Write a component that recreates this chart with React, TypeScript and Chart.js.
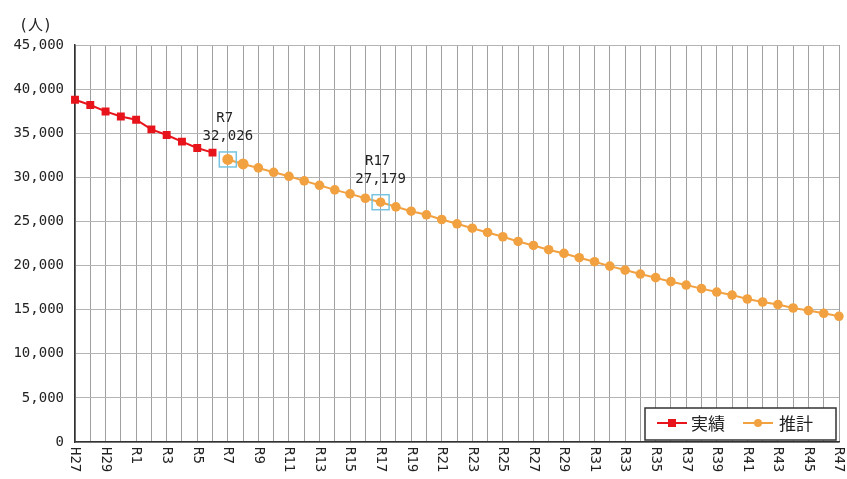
import { useEffect, useRef } from "react";
import { Chart, registerables } from "chart.js";

Chart.register(...registerables);

const categories = [
  "H27", "H28", "H29", "H30", "R1", "R2", "R3", "R4", "R5", "R6",
  "R7", "R8", "R9", "R10", "R11", "R12", "R13", "R14", "R15", "R16",
  "R17", "R18", "R19", "R20", "R21", "R22", "R23", "R24", "R25", "R26",
  "R27", "R28", "R29", "R30", "R31", "R32", "R33", "R34", "R35", "R36",
  "R37", "R38", "R39", "R40", "R41", "R42", "R43", "R44", "R45", "R46", "R47",
];

// 実績 (H27 - R6)
const actualValues = [38793, 38194, 37470, 36905, 36531, 35435, 34801, 34043, 33331, 32799];

// 推計 (R7 - R47)
const estimateValues = [
  32026, 31520, 31067, 30573, 30120, 29600, 29100, 28580, 28128, 27630,
  27179, 26657, 26160, 25752, 25221, 24735, 24237, 23751, 23264, 22733,
  22281, 21794, 21376, 20890, 20437, 19939, 19487, 19035, 18627, 18175,
  17790, 17383, 17000, 16660, 16207, 15868, 15574, 15189, 14895, 14590,
  14251,
];

const annotatedCategories = ["R7", "R17"];

const seriesNames = ["実績", "推計"];
const yMin = 0;
const yMax = 45000;
const yStep = 5000;
const unitLabel = "(人)";

const RED = "#e8141c";
const ORANGE = "#f2a141";
const MONO = '"DejaVu Sans Mono", "Noto Sans CJK JP", monospace';
const CJK = '"Noto Sans CJK JP", sans-serif';

const actualSeries = [
  ...actualValues,
  ...new Array(categories.length - actualValues.length).fill(null),
];
const estimateSeries = [
  ...new Array(categories.length - estimateValues.length).fill(null),
  ...estimateValues,
];

const overlayPlugin = {
  id: "overlay",
  afterDraw(chart: any) {
    const { ctx, chartArea, scales } = chart;
    const x = scales.x;
    const y = scales.y;
    ctx.save();

    // x tick labels, rotated to read top-to-bottom
    ctx.font = `14px ${MONO}`;
    ctx.fillStyle = "#222";
    categories.forEach((c, i) => {
      if (i % 2 !== 0) return;
      const px = x.getPixelForValue(i);
      ctx.save();
      ctx.translate(px, chartArea.bottom + 5);
      ctx.rotate(Math.PI / 2);
      ctx.textAlign = "left";
      ctx.textBaseline = "middle";
      ctx.fillText(c, 0, 0);
      ctx.restore();
    });

    // unit label
    ctx.font = `15px ${MONO}`;
    ctx.textAlign = "left";
    ctx.textBaseline = "middle";
    ctx.fillText(unitLabel, chartArea.left - 56, chartArea.top - 19);

    // annotations
    annotatedCategories.forEach((cat) => {
      const i = categories.indexOf(cat);
      const v = estimateSeries[i] as number;
      const px = x.getPixelForValue(i);
      const py = y.getPixelForValue(v);
      ctx.strokeStyle = "#78c4e0";
      ctx.lineWidth = 1.5;
      ctx.strokeRect(px - 8.5, py - 7.5, 17, 15);
      ctx.fillStyle = "#222";
      ctx.font = `14px ${MONO}`;
      ctx.textAlign = "center";
      ctx.textBaseline = "middle";
      ctx.fillText(cat, px - 3, py - 41);
      ctx.fillText(v.toLocaleString("en-US"), px, py - 23);
    });

    // legend
    const w = 191;
    const h = 32;
    const bx = chartArea.right - 194;
    const by = chartArea.bottom - 34;
    ctx.fillStyle = "#fff";
    ctx.fillRect(bx, by, w, h);
    ctx.strokeStyle = "#333";
    ctx.lineWidth = 1.5;
    ctx.strokeRect(bx, by, w, h);
    const cy = by + 15;
    // 実績
    ctx.strokeStyle = RED;
    ctx.lineWidth = 2;
    ctx.beginPath();
    ctx.moveTo(bx + 12, cy);
    ctx.lineTo(bx + 42, cy);
    ctx.stroke();
    ctx.fillStyle = RED;
    ctx.fillRect(bx + 27 - 4, cy - 4, 8, 8);
    ctx.fillStyle = "#222";
    ctx.font = `17px ${CJK}`;
    ctx.textAlign = "left";
    ctx.textBaseline = "middle";
    ctx.fillText(seriesNames[0], bx + 46, cy + 1);
    // 推計
    ctx.strokeStyle = ORANGE;
    ctx.beginPath();
    ctx.moveTo(bx + 98, cy);
    ctx.lineTo(bx + 128, cy);
    ctx.stroke();
    ctx.fillStyle = ORANGE;
    ctx.beginPath();
    ctx.arc(bx + 113, cy, 4, 0, Math.PI * 2);
    ctx.fill();
    ctx.fillStyle = "#222";
    ctx.fillText(seriesNames[1], bx + 134, cy + 1);

    ctx.restore();
  },
};

export default function App() {
  const canvasRef = useRef<HTMLCanvasElement | null>(null);

  useEffect(() => {
    document.body.style.margin = "0";
    const canvas = canvasRef.current;
    if (!canvas) return;
    const chart = new Chart(canvas, {
      type: "line",
      data: {
        labels: categories,
        datasets: [
          {
            label: seriesNames[0],
            data: actualSeries,
            borderColor: RED,
            backgroundColor: RED,
            borderWidth: 2,
            pointStyle: "rect",
            pointRadius: 5.6,
            pointBorderWidth: 0,
            tension: 0,
            spanGaps: false,
          },
          {
            label: seriesNames[1],
            data: estimateSeries,
            borderColor: ORANGE,
            backgroundColor: ORANGE,
            borderWidth: 2,
            pointStyle: "circle",
            pointRadius: (c: any) => (c.dataIndex === 10 || c.dataIndex === 11 ? 5.5 : 4.8),
            pointBorderWidth: 0,
            tension: 0,
            spanGaps: false,
          },
        ],
      },
      options: {
        animation: false,
        responsive: true,
        maintainAspectRatio: false,
        layout: { padding: { top: 45, right: 8, left: 0, bottom: 0 } },
        plugins: {
          legend: { display: false },
          tooltip: { enabled: false },
        },
        scales: {
          x: {
            offset: false,
            grid: { color: "#a0a0a0", lineWidth: 1, drawTicks: false },
            border: { color: "#333", width: 1.5 },
            ticks: { display: false },
            afterFit: (scale: any) => {
              scale.height = 37;
            },
          },
          y: {
            min: yMin,
            max: yMax,
            grid: { color: "#b4b4b4", lineWidth: 1, drawTicks: false },
            border: { color: "#333", width: 1.5 },
            ticks: {
              stepSize: yStep,
              padding: 11,
              color: "#222",
              font: { family: MONO, size: 14 },
              callback: (v: any) => Number(v).toLocaleString("en-US"),
            },
            afterFit: (scale: any) => {
              scale.width = 75;
            },
          },
        },
      },
      plugins: [overlayPlugin],
    });
    return () => chart.destroy();
  }, []);

  return (
    <div style={{ position: "fixed", left: 0, top: 0, width: 847, height: 479, background: "#fff" }}>
      <canvas ref={canvasRef} />
    </div>
  );
}
